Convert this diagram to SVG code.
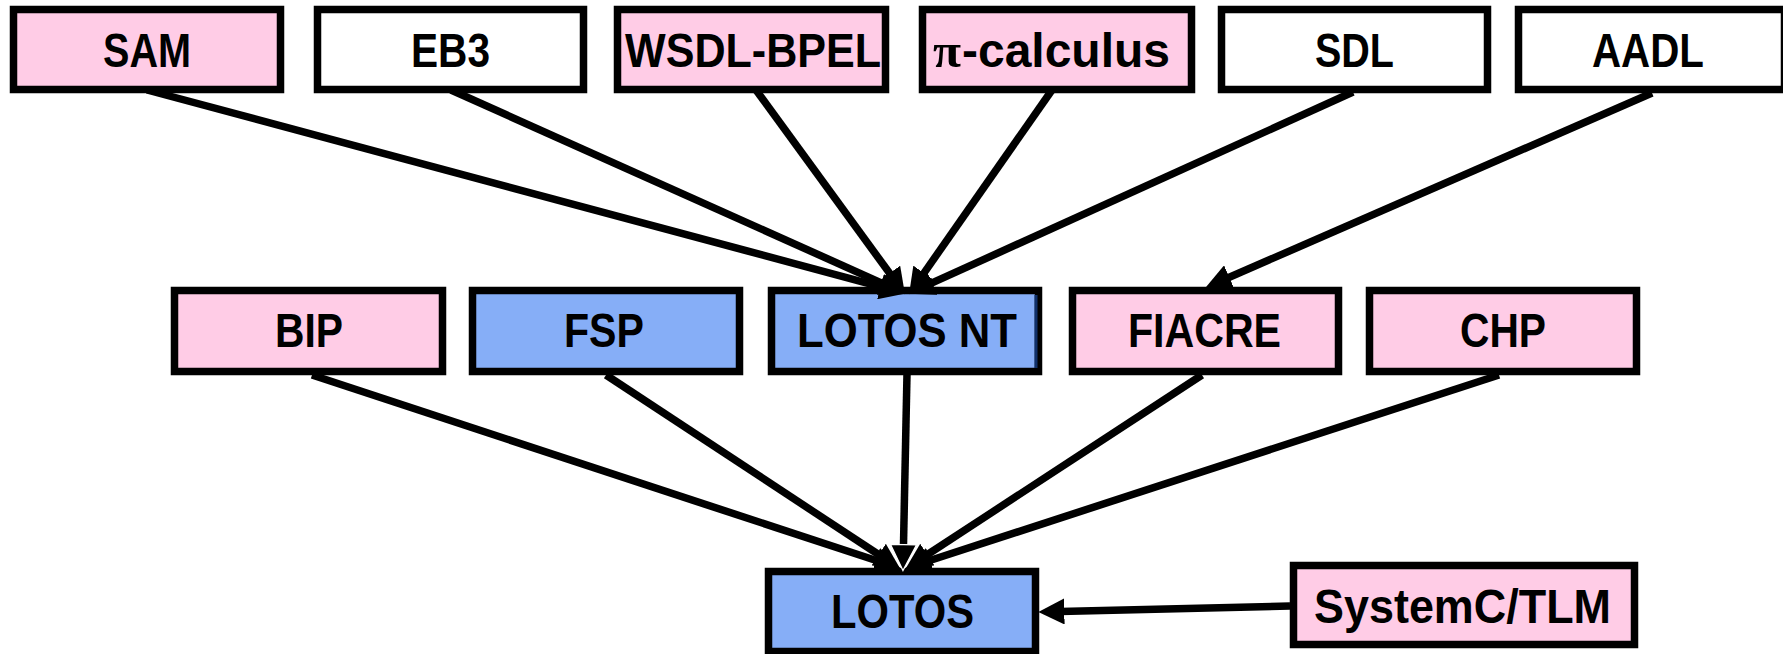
<svg xmlns="http://www.w3.org/2000/svg" width="1783" height="654" viewBox="0 0 1783 654">
<style>
.box{stroke:#000;stroke-width:7.5}
.pink{fill:#FFCCE6}
.blue{fill:#86AEF7}
.white{fill:#FFFFFF}
.lbl{font-family:"Liberation Sans",Arial,sans-serif;font-weight:bold;font-size:48px;fill:#000}
.pi{font-family:"Liberation Serif","Times New Roman",serif;font-weight:bold;font-size:48px}
.conn{stroke:#000;stroke-width:7.5;fill:none;marker-end:url(#ah)}
</style>
<defs>
<marker id="ah" markerUnits="userSpaceOnUse" markerWidth="26" markerHeight="26" refX="4" refY="12" orient="auto" viewBox="0 0 24 24">
<path d="M0,0 L24,12 L0,24 z" fill="#000"/>
</marker>
<marker id="ahw" markerUnits="userSpaceOnUse" markerWidth="28" markerHeight="28" refX="4" refY="12" orient="auto" viewBox="-1 -1 26 26" overflow="visible">
<path d="M0,0 L24,12 L0,24 z" fill="#000" stroke="#fff" stroke-width="1.2"/>
</marker>
</defs>
<rect width="1783" height="654" fill="#fff"/>
<g id="n-sam"><rect class="box pink" x="13.5" y="9.5" width="267" height="80"/><text class="lbl" x="103" y="67" textLength="88" lengthAdjust="spacingAndGlyphs">SAM</text></g>
<g id="n-eb3"><rect class="box white" x="317.5" y="9.5" width="266" height="80"/><text class="lbl" x="411" y="67" textLength="79" lengthAdjust="spacingAndGlyphs">EB3</text></g>
<g id="n-wsdl"><rect class="box pink" x="617.5" y="9.5" width="268" height="80"/><text class="lbl" x="625" y="67" textLength="256" lengthAdjust="spacingAndGlyphs">WSDL-BPEL</text></g>
<g id="n-pi"><rect class="box pink" x="922.5" y="9.5" width="269" height="80"/><text class="lbl" y="67"><tspan class="pi" x="933" textLength="28" lengthAdjust="spacingAndGlyphs">π</tspan><tspan x="962" textLength="208" lengthAdjust="spacingAndGlyphs">-calculus</tspan></text></g>
<g id="n-sdl"><rect class="box white" x="1221.5" y="9.5" width="266" height="80"/><text class="lbl" x="1315" y="67" textLength="79" lengthAdjust="spacingAndGlyphs">SDL</text></g>
<g id="n-aadl"><rect class="box white" x="1518.5" y="9.5" width="266" height="80"/><text class="lbl" x="1592" y="67" textLength="112" lengthAdjust="spacingAndGlyphs">AADL</text></g>
<g id="n-bip"><rect class="box pink" x="174.5" y="290.5" width="268" height="81"/><text class="lbl" x="275" y="347" textLength="68" lengthAdjust="spacingAndGlyphs">BIP</text></g>
<g id="n-fsp"><rect class="box blue" x="472.5" y="290.5" width="267" height="81"/><text class="lbl" x="564" y="347" textLength="80" lengthAdjust="spacingAndGlyphs">FSP</text></g>
<g id="n-lotosnt"><rect class="box blue" x="771.5" y="290.5" width="267" height="81"/><line x1="1036" y1="295" x2="1036" y2="368" stroke="#10306A" stroke-width="3"/><text class="lbl" x="797" y="347" textLength="220" lengthAdjust="spacingAndGlyphs">LOTOS NT</text></g>
<g id="n-fiacre"><rect class="box pink" x="1072.5" y="290.5" width="266" height="81"/><text class="lbl" x="1128" y="347" textLength="153" lengthAdjust="spacingAndGlyphs">FIACRE</text></g>
<g id="n-chp"><rect class="box pink" x="1369.5" y="290.5" width="267" height="81"/><text class="lbl" x="1460" y="347" textLength="86" lengthAdjust="spacingAndGlyphs">CHP</text></g>
<g id="n-lotos"><rect class="box blue" x="768.5" y="571.5" width="267" height="80"/><text class="lbl" x="831" y="628" textLength="143" lengthAdjust="spacingAndGlyphs">LOTOS</text></g>
<g id="n-systemc"><rect class="box pink" x="1293.5" y="565.5" width="341" height="79"/><text class="lbl" x="1314" y="623" textLength="297" lengthAdjust="spacingAndGlyphs">SystemC/TLM</text></g>
<g id="connectors">
<line class="conn" x1="147" y1="90" x2="884.7" y2="287.8"/>
<line class="conn" x1="451" y1="90" x2="885.7" y2="284.8"/>
<line class="conn" x1="756" y1="90" x2="892.2" y2="276.8"/>
<line class="conn" x1="1052" y1="90" x2="921.5" y2="276.6"/>
<line class="conn" x1="1353" y1="92" x2="928.2" y2="284.7"/>
<line class="conn" x1="1652" y1="93" x2="1225.3" y2="279"/>
<line class="conn" x1="312" y1="375" x2="880" y2="561.8"/>
<line class="conn" x1="606" y1="375" x2="882.3" y2="557"/>
<line class="conn" x1="1202" y1="375" x2="923.7" y2="557"/>
<line class="conn" x1="1499" y1="375" x2="926" y2="561.8"/>
<line class="conn" x1="907" y1="374" x2="903.4" y2="549" style="marker-end:url(#ahw)"/>
<line class="conn" x1="1290" y1="606" x2="1060" y2="611.5"/>
</g>
</svg>
